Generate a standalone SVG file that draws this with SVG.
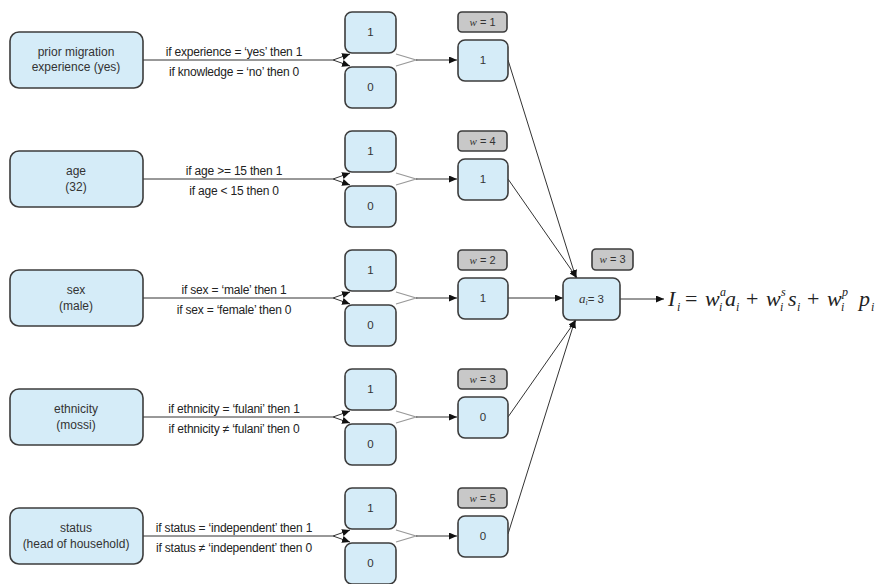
<svg xmlns="http://www.w3.org/2000/svg" width="882" height="584" viewBox="0 0 882 584">
  <defs>
    <marker id="arrow" markerUnits="userSpaceOnUse" markerWidth="8" markerHeight="7" refX="8" refY="3.5" orient="auto">
      <path d="M0,0 L8,3.5 L0,7 z" fill="#111"/>
    </marker>
    <style>
      .src { fill:#d5ecf8; stroke:#3c3c3c; stroke-width:1.6; }
      .val { fill:#d5ecf8; stroke:#3c3c3c; stroke-width:1.6; }
      .wt { fill:#c8c8c8; stroke:#3c3c3c; stroke-width:1.6; }
      .lbl { font-family:"Liberation Sans", Arial, sans-serif; font-size:12px; fill:#333; text-anchor:middle; }
      .num { font-family:"Liberation Sans", Arial, sans-serif; font-size:11.5px; fill:#333; text-anchor:middle; }
      .cond { font-family:"Liberation Sans", Arial, sans-serif; font-size:12px; fill:#222; text-anchor:middle; letter-spacing:-0.2px; }
      .wlbl { font-family:"Liberation Sans", Arial, sans-serif; font-size:11px; fill:#333; text-anchor:middle; }
      .wv { font-family:"Liberation Serif", "Times New Roman", serif; font-style:italic; }
      .edge { stroke:#333; stroke-width:1; fill:none; }
      .merge { stroke:#999; stroke-width:1.2; fill:none; }
      .f { font-family:"Liberation Serif", "Times New Roman", serif; font-size:22px; fill:#222; font-style:italic; }
      .fo { font-family:"Liberation Serif", "Times New Roman", serif; font-size:22px; fill:#222; }
      .fs { font-family:"Liberation Serif", "Times New Roman", serif; font-size:12px; fill:#222; font-style:italic; }
    </style>
  </defs>
  <rect width="882" height="584" fill="#fff"/>

  <!-- connectors -->
  <g id="connectors">
    <!-- row 1 -->
    <path class="edge" d="M143,60 H333"/>
    <path class="edge" d="M333,60 L350,54" marker-end="url(#arrow)"/>
    <path class="edge" d="M333,60 L350,66" marker-end="url(#arrow)"/>
    <path class="merge" d="M396,54 L416,60 L396,66"/>
    <path class="edge" d="M416,60 H457" marker-end="url(#arrow)"/>
    <!-- row 2 -->
    <path class="edge" d="M143,179 H333"/>
    <path class="edge" d="M333,179 L350,173" marker-end="url(#arrow)"/>
    <path class="edge" d="M333,179 L350,185" marker-end="url(#arrow)"/>
    <path class="merge" d="M396,173 L416,179 L396,185"/>
    <path class="edge" d="M416,179 H457" marker-end="url(#arrow)"/>
    <!-- row 3 -->
    <path class="edge" d="M143,298 H333"/>
    <path class="edge" d="M333,298 L350,292" marker-end="url(#arrow)"/>
    <path class="edge" d="M333,298 L350,304" marker-end="url(#arrow)"/>
    <path class="merge" d="M396,292 L416,298 L396,304"/>
    <path class="edge" d="M416,298 H457" marker-end="url(#arrow)"/>
    <!-- row 4 -->
    <path class="edge" d="M143,417 H333"/>
    <path class="edge" d="M333,417 L350,411" marker-end="url(#arrow)"/>
    <path class="edge" d="M333,417 L350,423" marker-end="url(#arrow)"/>
    <path class="merge" d="M396,411 L416,417 L396,423"/>
    <path class="edge" d="M416,417 H457" marker-end="url(#arrow)"/>
    <!-- row 5 -->
    <path class="edge" d="M143,536 H333"/>
    <path class="edge" d="M333,536 L350,530" marker-end="url(#arrow)"/>
    <path class="edge" d="M333,536 L350,542" marker-end="url(#arrow)"/>
    <path class="merge" d="M396,530 L416,536 L396,542"/>
    <path class="edge" d="M416,536 H457" marker-end="url(#arrow)"/>
    <!-- weighted values into the aggregate -->
    <path class="edge" d="M508,60 L576,278" marker-end="url(#arrow)"/>
    <path class="edge" d="M508,179 L577,278" marker-end="url(#arrow)"/>
    <path class="edge" d="M508,298 L563,298" marker-end="url(#arrow)"/>
    <path class="edge" d="M508,417 L576,320" marker-end="url(#arrow)"/>
    <path class="edge" d="M508,534 L575,320" marker-end="url(#arrow)"/>
    <path class="edge" d="M620,299 L664,299" marker-end="url(#arrow)"/>
  </g>

  <!-- condition labels -->
  <g id="conditions">
    <text class="cond" x="234" y="56">if experience = ‘yes’ then 1</text>
    <text class="cond" x="234" y="76">if knowledge = ‘no’ then 0</text>
    <text class="cond" x="234" y="175">if age &gt;= 15 then 1</text>
    <text class="cond" x="234" y="195">if age &lt; 15 then 0</text>
    <text class="cond" x="234" y="294">if sex = ‘male’ then 1</text>
    <text class="cond" x="234" y="314">if sex = ‘female’ then 0</text>
    <text class="cond" x="234" y="413">if ethnicity = ‘fulani’ then 1</text>
    <text class="cond" x="234" y="433">if ethnicity ≠ ‘fulani’ then 0</text>
    <text class="cond" x="234" y="532">if status = ‘independent’ then 1</text>
    <text class="cond" x="234" y="552">if status ≠ ‘independent’ then 0</text>
  </g>

  <!-- attribute boxes -->
  <g id="src1"><rect class="src" x="10" y="32" width="133" height="56" rx="9"/>
    <text class="lbl" x="76" y="56">prior migration</text><text class="lbl" x="76" y="71">experience (yes)</text></g>
  <g id="src2"><rect class="src" x="10" y="151" width="133" height="56" rx="9"/>
    <text class="lbl" x="76" y="175">age</text><text class="lbl" x="76" y="191">(32)</text></g>
  <g id="src3"><rect class="src" x="10" y="270" width="133" height="56" rx="9"/>
    <text class="lbl" x="76" y="294">sex</text><text class="lbl" x="76" y="310">(male)</text></g>
  <g id="src4"><rect class="src" x="10" y="389" width="133" height="56" rx="9"/>
    <text class="lbl" x="76" y="413">ethnicity</text><text class="lbl" x="76" y="429">(mossi)</text></g>
  <g id="src5"><rect class="src" x="10" y="508" width="133" height="56" rx="9"/>
    <text class="lbl" x="76" y="532">status</text><text class="lbl" x="76" y="548">(head of household)</text></g>

  <!-- binary outcome boxes -->
  <g id="one1"><rect class="val" x="345" y="12" width="51" height="41" rx="7"/><text class="num" x="370.5" y="36">1</text></g>
  <g id="zero1"><rect class="val" x="345" y="67" width="51" height="41" rx="7"/><text class="num" x="370.5" y="91">0</text></g>
  <g id="one2"><rect class="val" x="345" y="131" width="51" height="41" rx="7"/><text class="num" x="370.5" y="155">1</text></g>
  <g id="zero2"><rect class="val" x="345" y="186" width="51" height="41" rx="7"/><text class="num" x="370.5" y="210">0</text></g>
  <g id="one3"><rect class="val" x="345" y="250" width="51" height="41" rx="7"/><text class="num" x="370.5" y="274">1</text></g>
  <g id="zero3"><rect class="val" x="345" y="305" width="51" height="41" rx="7"/><text class="num" x="370.5" y="329">0</text></g>
  <g id="one4"><rect class="val" x="345" y="369" width="51" height="41" rx="7"/><text class="num" x="370.5" y="393">1</text></g>
  <g id="zero4"><rect class="val" x="345" y="424" width="51" height="41" rx="7"/><text class="num" x="370.5" y="448">0</text></g>
  <g id="one5"><rect class="val" x="345" y="488" width="51" height="41" rx="7"/><text class="num" x="370.5" y="512">1</text></g>
  <g id="zero5"><rect class="val" x="345" y="543" width="51" height="41" rx="7"/><text class="num" x="370.5" y="567">0</text></g>

  <!-- weights -->
  <g id="wlabel1"><rect class="wt" x="458" y="12" width="49" height="20" rx="4"/><text class="wlbl" x="482.5" y="26"><tspan class="wv">w</tspan> = 1</text></g>
  <g id="wlabel2"><rect class="wt" x="458" y="131" width="49" height="20" rx="4"/><text class="wlbl" x="482.5" y="145"><tspan class="wv">w</tspan> = 4</text></g>
  <g id="wlabel3"><rect class="wt" x="458" y="250" width="49" height="20" rx="4"/><text class="wlbl" x="482.5" y="264"><tspan class="wv">w</tspan> = 2</text></g>
  <g id="wlabel4"><rect class="wt" x="458" y="369" width="49" height="20" rx="4"/><text class="wlbl" x="482.5" y="383"><tspan class="wv">w</tspan> = 3</text></g>
  <g id="wlabel5"><rect class="wt" x="458" y="488" width="49" height="20" rx="4"/><text class="wlbl" x="482.5" y="502"><tspan class="wv">w</tspan> = 5</text></g>

  <!-- selected values -->
  <g id="sel1"><rect class="val" x="458" y="40" width="50" height="41" rx="7"/><text class="num" x="483" y="64">1</text></g>
  <g id="sel2"><rect class="val" x="458" y="159" width="50" height="41" rx="7"/><text class="num" x="483" y="183">1</text></g>
  <g id="sel3"><rect class="val" x="458" y="278" width="50" height="41" rx="7"/><text class="num" x="483" y="302">1</text></g>
  <g id="sel4"><rect class="val" x="458" y="397" width="50" height="41" rx="7"/><text class="num" x="483" y="421">0</text></g>
  <g id="sel5"><rect class="val" x="458" y="516" width="50" height="41" rx="7"/><text class="num" x="483" y="540">0</text></g>

  <!-- aggregate -->
  <g id="wagg"><rect class="wt" x="592" y="249" width="41" height="21" rx="4"/><text class="wlbl" x="612.5" y="263"><tspan class="wv">w</tspan> = 3</text></g>
  <g id="agg"><rect class="val" x="563" y="278" width="57" height="42" rx="7"/>
    <text class="num" x="591.5" y="303"><tspan class="wv" font-size="13">a</tspan><tspan class="wv" font-size="8" dy="2">i</tspan><tspan dy="-2">= 3</tspan></text></g>

  <!-- index formula -->
  <g id="formula">
    <text class="f" x="668" y="306">I</text><text class="fs" x="677" y="311">i</text>
    <text class="fo" x="685" y="306">=</text>
    <text class="f" x="705" y="306">w</text><text class="fs" x="719" y="311">i</text><text class="fs" x="720" y="296">a</text>
    <text class="f" x="725" y="306">a</text><text class="fs" x="736" y="311">i</text>
    <text class="fo" x="746" y="306">+</text>
    <text class="f" x="766" y="306">w</text><text class="fs" x="780" y="311">i</text><text class="fs" x="781" y="296">s</text>
    <text class="f" x="788" y="306">s</text><text class="fs" x="797" y="311">i</text>
    <text class="fo" x="807" y="306">+</text>
    <text class="f" x="827" y="306">w</text><text class="fs" x="841" y="311">i</text><text class="fs" x="842" y="296">p</text>
    <text class="f" x="859" y="306">p</text><text class="fs" x="871" y="311">i</text>
  </g>
</svg>
